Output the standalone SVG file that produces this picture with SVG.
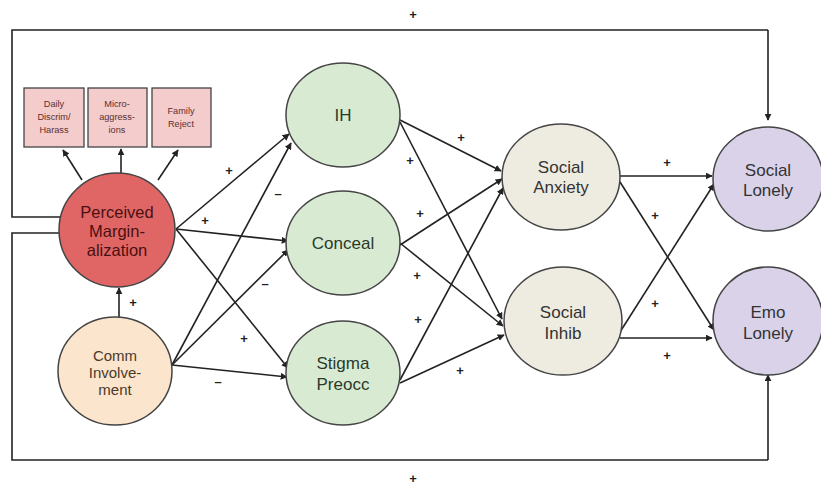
<svg xmlns="http://www.w3.org/2000/svg" width="821" height="486" viewBox="0 0 821 486">
<defs>
<marker id="ah" viewBox="0 0 10 10" refX="9" refY="5" markerWidth="7" markerHeight="7" markerUnits="userSpaceOnUse" orient="auto">
<path d="M0,0 L10,5 L0,10 z" fill="#222"/>
</marker>
<style>
.ln{stroke:#222;stroke-width:1.6;fill:none}
.ar{stroke:#222;stroke-width:1.6;fill:none;marker-end:url(#ah)}
.nd{stroke:#444;stroke-width:1.5}
.t{font-family:"Liberation Sans",Arial,sans-serif;font-size:17px;text-anchor:middle;dominant-baseline:central}
.s{font-family:"Liberation Sans",Arial,sans-serif;font-size:9.2px;text-anchor:middle;dominant-baseline:central;fill:#5a3030}
.lb{font-family:"Liberation Sans",Arial,sans-serif;font-size:13px;font-weight:bold;text-anchor:middle;dominant-baseline:central;fill:#222}
</style>
</defs>
<rect width="821" height="486" fill="#fff"/>
<g id="connectors">
<polyline class="ln" points="60,217 12,217 12,30 768,30"/>
<line class="ar" x1="768" y1="30" x2="768" y2="120"/>
<polyline class="ln" points="60,233 12,233 12,460 768,460"/>
<line class="ar" x1="768" y1="460" x2="768" y2="375"/>
<line class="ar" x1="82" y1="180" x2="63" y2="150"/>
<line class="ar" x1="121" y1="173" x2="121" y2="149"/>
<line class="ar" x1="158" y1="180" x2="178" y2="150"/>
<line class="ar" x1="119" y1="317" x2="119" y2="288"/>
<line class="ar" x1="176" y1="229" x2="289" y2="134"/>
<line class="ar" x1="176" y1="229" x2="288" y2="241"/>
<line class="ar" x1="176" y1="229" x2="288" y2="368"/>
<line class="ar" x1="172" y1="365" x2="291" y2="143"/>
<line class="ar" x1="172" y1="365" x2="288" y2="250"/>
<line class="ar" x1="172" y1="365" x2="287" y2="377"/>
<line class="ar" x1="400" y1="120" x2="501" y2="171"/>
<line class="ar" x1="400" y1="122" x2="502" y2="319"/>
<line class="ar" x1="400" y1="245" x2="502" y2="179"/>
<line class="ar" x1="400" y1="243" x2="503" y2="326"/>
<line class="ar" x1="400" y1="380" x2="503" y2="188"/>
<line class="ar" x1="400" y1="383" x2="504" y2="335"/>
<line class="ar" x1="620" y1="176" x2="712" y2="176"/>
<line class="ar" x1="620" y1="182" x2="714" y2="330"/>
<line class="ar" x1="620" y1="332" x2="714" y2="184"/>
<line class="ar" x1="620" y1="338" x2="712" y2="338"/>
</g>
<g id="labels">
<text class="lb" x="413" y="14">+</text>
<text class="lb" x="413" y="478">+</text>
<text class="lb" x="133" y="302">+</text>
<text class="lb" x="229" y="170">+</text>
<text class="lb" x="278" y="193">–</text>
<text class="lb" x="205" y="220">+</text>
<text class="lb" x="265" y="283">–</text>
<text class="lb" x="244" y="338">+</text>
<text class="lb" x="218" y="381">–</text>
<text class="lb" x="461" y="137">+</text>
<text class="lb" x="410" y="160">+</text>
<text class="lb" x="420" y="213">+</text>
<text class="lb" x="417" y="275">+</text>
<text class="lb" x="418" y="319">+</text>
<text class="lb" x="460" y="370">+</text>
<text class="lb" x="667" y="162">+</text>
<text class="lb" x="655" y="215">+</text>
<text class="lb" x="655" y="303">+</text>
<text class="lb" x="667" y="355">+</text>
</g>
<g id="daily">
<rect x="24" y="88" width="60" height="59" fill="#f4cccc" stroke="#444" stroke-width="1.3"/>
<text class="s" x="54" y="104">Daily</text>
<text class="s" x="54" y="117">Discrim/</text>
<text class="s" x="54" y="130">Harass</text>
</g>
<g id="micro">
<rect x="88" y="88" width="59" height="59" fill="#f4cccc" stroke="#444" stroke-width="1.3"/>
<text class="s" x="117" y="104">Micro-</text>
<text class="s" x="117" y="117">aggress-</text>
<text class="s" x="117" y="130">ions</text>
</g>
<g id="family">
<rect x="152" y="88" width="59" height="59" fill="#f4cccc" stroke="#444" stroke-width="1.3"/>
<text class="s" x="181" y="111">Family</text>
<text class="s" x="181" y="124">Reject</text>
</g>
<g id="pm">
<ellipse class="nd" cx="117" cy="230" rx="58" ry="57" fill="#e06666"/>
<text class="t" x="117" y="212" fill="#4a1010" style="font-size:16.5px">Perceived</text>
<text class="t" x="117" y="231" fill="#4a1010" style="font-size:16.5px">Margin-</text>
<text class="t" x="117" y="250" fill="#4a1010" style="font-size:16.5px">alization</text>
</g>
<g id="comm">
<ellipse class="nd" cx="115" cy="371" rx="57" ry="54" fill="#fce5cd"/>
<text class="t" x="115" y="355" fill="#4a3a2a" style="font-size:15px">Comm</text>
<text class="t" x="115" y="372" fill="#4a3a2a" style="font-size:15px">Involve-</text>
<text class="t" x="115" y="389" fill="#4a3a2a" style="font-size:15px">ment</text>
</g>
<g id="ih">
<ellipse class="nd" cx="343" cy="115" rx="57" ry="52" fill="#d9ead3"/>
<text class="t" x="343" y="115" fill="#2a3a2a">IH</text>
</g>
<g id="conceal">
<ellipse class="nd" cx="343" cy="243" rx="57" ry="52" fill="#d9ead3"/>
<text class="t" x="343" y="243" fill="#2a3a2a">Conceal</text>
</g>
<g id="stigma">
<ellipse class="nd" cx="343" cy="373" rx="57" ry="52" fill="#d9ead3"/>
<text class="t" x="343" y="363" fill="#2a3a2a">Stigma</text>
<text class="t" x="343" y="384" fill="#2a3a2a">Preocc</text>
</g>
<g id="anxiety">
<ellipse class="nd" cx="561" cy="177" rx="59" ry="53" fill="#eeece1"/>
<text class="t" x="561" y="167" fill="#333">Social</text>
<text class="t" x="561" y="187" fill="#333">Anxiety</text>
</g>
<g id="inhib">
<ellipse class="nd" cx="563" cy="321" rx="59" ry="54" fill="#eeece1"/>
<text class="t" x="563" y="312" fill="#333">Social</text>
<text class="t" x="563" y="333" fill="#333">Inhib</text>
</g>
<g id="social-lonely">
<ellipse class="nd" cx="768" cy="179" rx="55" ry="52" fill="#d9d2e9"/>
<text class="t" x="768" y="170" fill="#333">Social</text>
<text class="t" x="768" y="190" fill="#333">Lonely</text>
</g>
<g id="emo-lonely">
<ellipse class="nd" cx="768" cy="321" rx="55" ry="54" fill="#d9d2e9"/>
<text class="t" x="768" y="312" fill="#333">Emo</text>
<text class="t" x="768" y="333" fill="#333">Lonely</text>
</g>
</svg>
